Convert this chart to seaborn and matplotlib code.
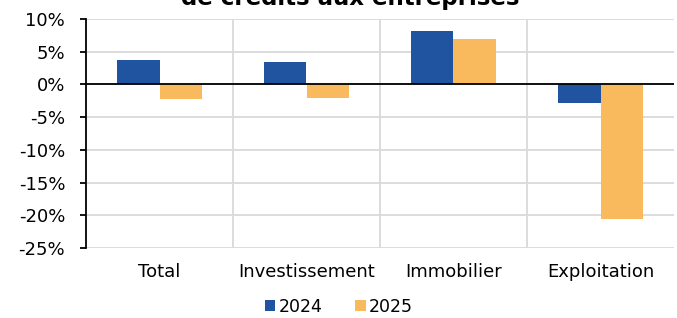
import pandas as pd
import numpy as np
import seaborn as sns
import matplotlib.pyplot as plt
from matplotlib.ticker import FuncFormatter, FixedLocator

# Values (growth rate, %)
categories = ["Total", "Investissement", "Immobilier", "Exploitation"]
years = ["2024", "2025"]
values_2024 = [3.8, 3.5, 8.2, -2.85]
values_2025 = [-2.2, -2.0, 7.0, -20.5]
yticks = [10, 5, 0, -5, -10, -15, -20, -25]

df = pd.DataFrame({
    "categorie": categories * 2,
    "annee": [years[0]] * 4 + [years[1]] * 4,
    "valeur": values_2024 + values_2025,
})

sns.set_style("white")
plt.rcParams["font.family"] = ["DejaVu Sans"]
plt.rcParams["text.color"] = "black"
plt.rcParams["xtick.color"] = "black"
plt.rcParams["ytick.color"] = "black"

fig = plt.figure(figsize=(6.77, 3.18), dpi=100)
ax = fig.add_axes([86 / 677, 70 / 318, 588 / 677, 229 / 318])

sns.barplot(
    data=df, x="categorie", y="valeur", hue="annee",
    palette=["#2154A0", "#F9BA5E"], width=0.575, saturation=1,
    linewidth=0, ax=ax, zorder=3,
)

ax.set_ylim(-25, 10)
ax.set_xlim(-0.5, 3.5)
ax.set_yticks(yticks)
ax.yaxis.set_major_formatter(FuncFormatter(lambda v, p: f"{v:.0f}%"))
ax.xaxis.set_minor_locator(FixedLocator([0.5, 1.5, 2.5]))

ax.grid(axis="y", which="major", color="#D9D9D9", linewidth=1.3, zorder=0)
ax.grid(axis="x", which="minor", color="#D9D9D9", linewidth=1.3, zorder=0)
ax.set_axisbelow(True)
ax.axhline(0, color="black", linewidth=1.3, zorder=4)

for s in ["top", "right", "bottom"]:
    ax.spines[s].set_visible(False)
ax.spines["left"].set_color("black")
ax.spines["left"].set_linewidth(1.3)

ax.tick_params(axis="y", which="major", direction="out", length=4, width=1.3,
               color="black", left=True, labelsize=13, pad=11)
ax.tick_params(axis="x", which="both", length=0, labelsize=13, pad=11)
ax.set_xlabel("")
ax.set_ylabel("")

ax.legend(
    loc="upper center", bbox_to_anchor=(0.43, -0.18), ncol=2, frameon=False,
    fontsize=12.5, handlelength=0.6, handleheight=0.6, handletextpad=0.2,
    columnspacing=1.9, borderpad=0.0,
)

fig.text(0.517, 1 - 5 / 318, "Évolution des encours\nde crédits aux entreprises",
         ha="center", va="baseline", fontsize=16.5, fontweight="bold",
         linespacing=1.2)

fig.savefig("out.png", dpi=100)
